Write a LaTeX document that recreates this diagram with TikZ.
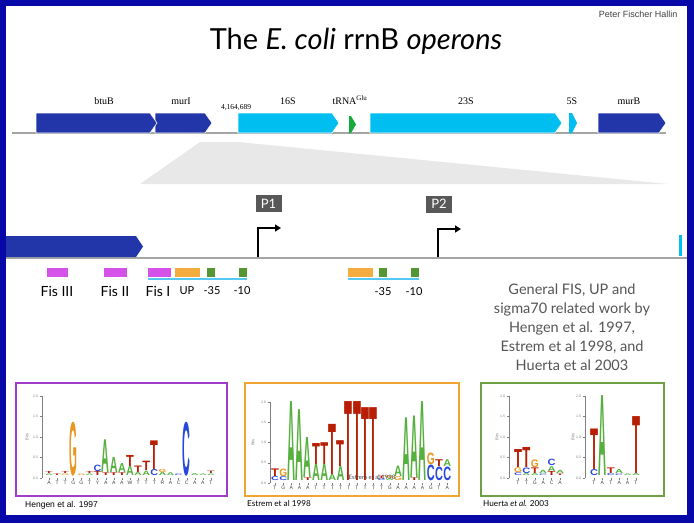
\documentclass[tikz,border=0pt]{standalone}
\usepackage{fontspec}
\setmainfont{Lato}
\newfontfamily\genefont{Liberation Serif}
\newfontfamily\arialfont{Liberation Sans}
\newfontfamily\logofont{Liberation Sans}
\usetikzlibrary{arrows.meta}

\definecolor{frameblue}{RGB}{8,8,168}
\definecolor{geneblue}{RGB}{34,54,170}
\definecolor{rnablue}{RGB}{0,190,240}
\definecolor{trnagreen}{RGB}{20,170,60}
\definecolor{trackgray}{RGB}{165,165,165}
\definecolor{zoomgray}{RGB}{232,232,232}
\definecolor{fismag}{RGB}{212,82,232}
\definecolor{uporange}{RGB}{245,172,62}
\definecolor{boxgreen}{RGB}{84,150,52}
\definecolor{siteblue}{RGB}{84,200,240}
\definecolor{pbox}{RGB}{88,88,88}
\definecolor{notegray}{RGB}{85,85,85}
\definecolor{lgA}{RGB}{86,176,62}
\definecolor{lgC}{RGB}{40,72,220}
\definecolor{lgG}{RGB}{232,150,30}
\definecolor{lgT}{RGB}{184,30,4}
\definecolor{hengenframe}{RGB}{160,60,200}
\definecolor{estremframe}{RGB}{240,165,50}
\definecolor{huertaframe}{RGB}{110,160,70}

% logo helpers: y axis, letters under the columns, stacked letters
\newcommand{\logoaxis}[4]{% axis x, zero line, px per bit, x of Bits
  \draw[axis] (#1,{#2-2*#3}) -- (#1,#2);
  \foreach \tv [count=\n] in {0.0,0.5,1.0,1.5,2.0}{
    \draw[axis] ({#1-2.5},{#2-#3*\tv}) -- (#1,{#2-#3*\tv});
    \node[ticklab] (ax#1t\n) at ({#1-3.5},{#2-#3*\tv}) {\tv};
  }
  \node[bitslab] (ax#1bits) at (#4,{#2-#3}) {Bits};
}
\newcommand{\logoseq}[4]{% first column x, column step, zero line, letters
  \foreach \ltr [count=\n from 0] in {#4}{
    \draw[axis] ({#1+#2*\n},#3) -- ++(0,2);
    \node[seqlab] (sq#1n\n) at ({#1+#2*\n},{#3+3}) {\ltr};
  }
}
\newcommand{\logostack}[6]{% first column x, column step, zero line, px per bit, letter width, stacks
  \foreach \pos/\lo/\hi/\ltr in {#6}{
    \pgfmathsetmacro\lgh{#4*(\hi-\lo)-0.5}
    \node[letter=lg\ltr] (st#1n\pos\ltr) at ({#1+#2*\pos},{#3-#4*\lo-0.25})
      {\resizebox*{#5}{\lgh pt}{\logofont\bfseries\ltr}};
  }
}

\begin{document}
\begin{tikzpicture}[x=1pt, y=-1pt,
    gene/.style={font=\genefont\fontsize{10}{11}\selectfont, anchor=base, inner sep=0},
    site/.style={font=\fontsize{14}{16}\selectfont, anchor=base, inner sep=0},
    smallsite/.style={font=\fontsize{11}{12}\selectfont, anchor=base, inner sep=0},
    sitebox/.style={minimum height=9pt, inner sep=0},
    siteline/.style={siteblue, line width=2.5pt},
    pname/.style={fill=pbox, text=white, font=\fontsize{13}{14}\selectfont, minimum width=26pt, minimum height=17pt, inner sep=0},
    promoter/.style={line width=1.8pt, -{Triangle[length=6pt,width=7pt]}},
    track/.style={trackgray, line width=2.5pt},
    logoframe/.style={line width=1.5pt, fill=white},
    axis/.style={gray, line width=0.4pt},
    ticklab/.style={font=\arialfont\fontsize{3.5}{3.5}\selectfont, text=gray, inner sep=0.3pt, anchor=east},
    bitslab/.style={font=\arialfont\fontsize{4}{4}\selectfont, text=gray, rotate=90, inner sep=0},
    seqlab/.style={font=\arialfont\fontsize{5}{5}\selectfont, text=darkgray, inner sep=0, anchor=north},
    letter/.style={inner sep=0, anchor=south, text=#1},
    caption/.style={anchor=west, inner sep=0}
  ]
  \path[use as bounding box] (0,0) rectangle (694,523);
  \fill[frameblue] (0,0) rectangle (694,523);
  \fill[white] (6,6) rectangle (687,515);

  \node[anchor=east, font=\arialfont\fontsize{9}{10}\selectfont, text=darkgray] (author) at (681,14) {Peter Fischer Hallin};
  \node[anchor=base, font=\fontsize{29}{31}\selectfont] (title) at (356,49) {The \textit{E. coli} rrnB \textit{operons}};

  % operon map
  \fill[zoomgray] (140,184) -- (200,142) -- (238,142) -- (668,184) -- cycle;
  \draw[track] (12,133) -- (666,133);
  \foreach \x/\y/\c in {155/212/geneblue, 36/157/geneblue, 238/339/rnablue, 370/562/rnablue, 598/666/geneblue}
    \fill[\c, draw=white, line width=0.6pt] (\x,113) -- ({\y-7},113) -- (\y,123) -- ({\y-7},133) -- (\x,133) -- cycle;
  \fill[trnagreen] (349,116) -- (351,116) -- (356,124.5) -- (351,133) -- (349,133) -- cycle;
  \fill[rnablue] (569,113) -- (572,113) -- (577,123) -- (572,133) -- (569,133) -- cycle;
  \node[gene] (btuB) at (104,104) {btuB};
  \node[gene] (murI) at (181,104) {murI};
  \node[gene, font=\genefont\fontsize{7.5}{8}\selectfont] (pos) at (236,109) {4,164,689};
  \node[gene] (rrs) at (288,104) {16S};
  \node[gene] (trna) at (350,104) {tRNA\textsuperscript{Glu}};
  \node[gene] (rrl) at (466,104) {23S};
  \node[gene] (rrf) at (572,104) {5S};
  \node[gene] (murB) at (629,104) {murB};

  % promoter region
  \draw[track] (6,258) -- (687,258);
  \fill[geneblue] (6,236) -- (136,236) -- (143,246.5) -- (136,257) -- (6,257) -- cycle;
  \fill[rnablue] (679,235) rectangle (682,256);
  \node[pname] (P1) at (268.5,203.5) {P1};
  \node[pname] (P2) at (439,204) {P2};
  \coordinate (p1foot) at (258,257);
  \coordinate (p1head) at (281,228);
  \coordinate (p2foot) at (438,257);
  \coordinate (p2head) at (461,229);
  \draw[promoter] (p1foot) |- (p1head);
  \draw[promoter] (p2foot) |- (p2head);

  \draw[siteline] (148,279) -- (247,279);
  \draw[siteline] (348,279) -- (419,279);
  \node[sitebox, fill=fismag, minimum width=21pt] (fisIIIbox) at (57.5,272.5) {};
  \node[sitebox, fill=fismag, minimum width=23pt] (fisIIbox) at (115.5,272.5) {};
  \node[sitebox, fill=fismag, minimum width=23pt] (fisIbox) at (159.5,272.5) {};
  \node[sitebox, fill=uporange, minimum width=25pt] (upbox) at (187.5,272.5) {};
  \node[sitebox, fill=boxgreen, minimum width=8pt] (p1mbox) at (211,272.5) {};
  \node[sitebox, fill=boxgreen, minimum width=8pt] (p1tbox) at (242.5,272.5) {};
  \node[sitebox, fill=uporange, minimum width=25pt] (up2box) at (360.5,272.5) {};
  \node[sitebox, fill=boxgreen, minimum width=8pt] (p2mbox) at (382.5,272.5) {};
  \node[sitebox, fill=boxgreen, minimum width=8pt] (p2tbox) at (414.5,272.5) {};

  \node[site] (fisIII) at (57,296) {Fis III};
  \node[site] (fisII) at (115,296) {Fis II};
  \node[site] (fisI) at (158,296) {Fis I};
  \node[smallsite] (up) at (187,294) {UP};
  \node[smallsite] (p1m) at (212,294) {-35};
  \node[smallsite] (p1t) at (242,294) {-10};
  \node[smallsite] (p2m) at (383,295) {-35};
  \node[smallsite] (p2t) at (414,295) {-10};

  \node[align=center, text=notegray, font=\fontsize{14.5}{19}\selectfont] (refs) at (572,327)
    {General FIS, UP and\\sigma70 related work by\\Hengen et al. 1997,\\Estrem et al 1998, and\\Huerta et al 2003};

  % sequence logos
  \draw[logoframe, draw=hengenframe] (16,383) rectangle (227,496);
  \draw[logoframe, draw=estremframe] (245,383) rectangle (459,496);
  \draw[logoframe, draw=huertaframe] (481,383) rectangle (664,496);

  \logoaxis{42}{478}{41}{27}
  \logoseq{49}{8.1}{478}{A,T,T,G,G,T,Y,A,A,A,W,T,T,T,R,A,C,C,A,A,T}
  \logostack{49}{8.1}{478}{41}{7.8pt}{0/0.04/0.09/A, 0/0.09/0.15/T, 1/0.04/0.09/T,
    2/0.04/0.09/G, 2/0.09/0.15/T, 3/0.04/1.37/G, 4/0.04/0.09/G,
    5/0.04/0.09/A, 5/0.09/0.15/T, 6/0.04/0.15/T, 6/0.15/0.32/C,
    7/0.04/0.12/T, 7/0.12/0.93/A, 8/0.04/0.12/T, 8/0.12/0.5/A,
    9/0.04/0.12/T, 9/0.12/0.35/A, 10/0.04/0.28/A, 10/0.28/0.56/T,
    11/0.04/0.13/A, 11/0.13/0.3/T, 12/0.04/0.16/A, 12/0.16/0.4/T,
    13/0.04/0.2/C, 13/0.2/0.91/T, 14/0.04/0.13/A, 14/0.13/0.22/G,
    15/0.04/0.12/A, 16/0.04/0.09/C, 17/0.04/1.37/C, 18/0.04/0.1/A,
    19/0.04/0.09/A, 20/0.04/0.09/A, 20/0.09/0.16/T}

  \logoaxis{270}{483}{40.5}{253}
  \logoseq{275}{8.2}{483}{T,G,A,A,A,T,T,T,T,T,T,T,T,T,G,A,A,A,A,G,T,A}
  \logostack{275}{8.2}{483}{40.5}{7.9pt}{0/0.04/0.15/C, 0/0.15/0.35/T,
    1/0.04/0.15/C, 1/0.15/0.35/G, 2/0.04/2.0/A, 3/0.04/1.8/A,
    4/0.04/0.12/T, 4/0.12/1.12/A, 5/0.04/0.45/A, 5/0.45/0.98/T,
    6/0.04/0.45/A, 6/0.45/1.0/T, 7/0.04/0.2/A, 7/0.2/1.45/T,
    8/0.04/0.4/A, 8/0.4/1.05/T, 9/0.04/2.0/T, 10/0.04/2.0/T,
    11/0.04/1.85/T, 12/0.04/1.85/T, 13/0.04/0.1/C, 13/0.1/0.17/T,
    14/0.04/0.1/A, 14/0.1/0.18/G, 15/0.04/0.15/G, 15/0.15/0.42/A,
    16/0.04/1.6/A, 17/0.04/0.12/T, 17/0.12/1.65/A, 18/0.04/2.0/A,
    19/0.05/0.45/C, 19/0.45/0.75/G, 20/0.05/0.4/C, 20/0.4/0.58/T,
    21/0.05/0.4/C, 21/0.4/0.58/A}
  \node[font=\fontsize{6}{6}\selectfont, text=darkgray] (estremmark) at (372,477) {Estrem et al 1998};

  \logoaxis{509}{478}{41}{497}
  \logoseq{518}{8.4}{478}{T,T,G,A,C,A}
  \logostack{518}{8.4}{478}{41}{8pt}{0/0.04/0.12/C, 0/0.12/0.25/G, 0/0.25/0.7/T,
    1/0.04/0.1/A, 1/0.1/0.25/C, 1/0.25/0.75/T,
    2/0.04/0.1/A, 2/0.1/0.25/T, 2/0.25/0.45/G,
    3/0.04/0.09/C, 3/0.09/0.18/A,
    4/0.04/0.15/T, 4/0.15/0.28/A, 4/0.28/0.45/C,
    5/0.04/0.09/T, 5/0.09/0.18/A}

  \logoaxis{585}{478}{41}{573}
  \logoseq{594}{8.4}{478}{T,A,T,A,A,T}
  \logostack{594}{8.4}{478}{41}{8pt}{0/0.04/0.2/C, 0/0.2/1.2/T, 1/0.04/2.0/A,
    2/0.04/0.1/C, 2/0.1/0.25/T, 3/0.04/0.09/C, 3/0.09/0.2/A,
    4/0.04/0.09/A, 5/0.04/0.1/A, 5/0.1/1.5/T}

  \node[caption, font=\arialfont\fontsize{8.5}{9}\selectfont] (hengencap) at (25,505) {Hengen et al. 1997};
  \node[caption, font=\fontsize{8.2}{9}\selectfont] (estremcap) at (247,504) {Estrem et al 1998};
  \node[caption, font=\fontsize{8.2}{9}\selectfont] (huertacap) at (483,504) {Huerta \textit{et al.} 2003};
\end{tikzpicture}
\end{document}
